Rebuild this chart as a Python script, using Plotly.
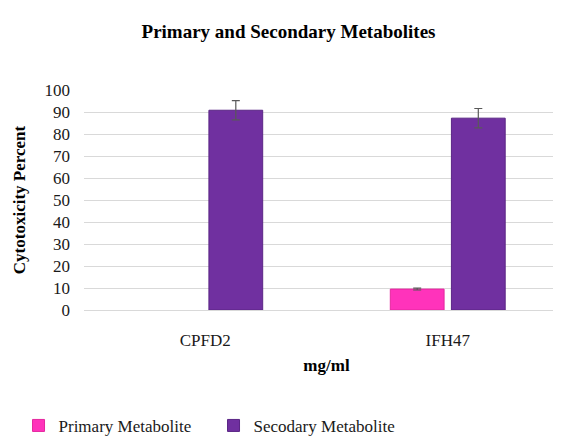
import plotly.graph_objects as go

categories = ["CPFD2", "IFH47"]
primary_values = [None, 9.5]
primary_errors = [None, 0.4]
secondary_values = [90.8, 87.2]
secondary_errors = [4.4, 4.4]
y_ticks = [0, 10, 20, 30, 40, 50, 60, 70, 80, 90, 100]

SERIF = "Liberation Serif, Times New Roman, serif"

fig = go.Figure()
fig.add_trace(go.Bar(
    name="Primary Metabolite", x=categories, y=primary_values,
    marker=dict(color="#FF33BB", line=dict(color="#E5279F", width=1)),
    error_y=dict(type="data", array=primary_errors, color="#595959", thickness=1.2, width=4),
))
fig.add_trace(go.Bar(
    name="Secodary Metabolite", x=categories, y=secondary_values,
    marker=dict(color="#7030A0", line=dict(color="#5A2585", width=1)),
    error_y=dict(type="data", array=secondary_errors, color="#595959", thickness=1.2, width=4),
))

fig.update_layout(
    width=561, height=436,
    margin=dict(l=76, r=0, t=82, b=122),
    paper_bgcolor="white", plot_bgcolor="white",
    barmode="group", bargap=0.496, bargroupgap=0.12,
    font=dict(family=SERIF, size=17, color="#1a1a1a"),
    title=dict(text="<b>Primary and Secondary Metabolites</b>", x=0.5, xanchor="center",
               y=1 - 23 / 436, yref="container", yanchor="middle",
               font=dict(family=SERIF, size=19, color="#000000")),
    showlegend=True,
    legend=dict(orientation="h", x=-0.135, xanchor="left", y=-0.445, yanchor="top",
                font=dict(family=SERIF, size=17, color="#1a1a1a"),
                entrywidth=150, traceorder="normal", itemwidth=30),
    xaxis=dict(showgrid=False, showline=False, zeroline=False, ticks="",
               ticklabelstandoff=18,
               title=dict(text="<b>mg/ml</b>", standoff=10,
                          font=dict(family=SERIF, size=17, color="#000000"))),
    yaxis=dict(range=[0, 100], tickvals=y_ticks, showgrid=True, gridcolor="#D9D9D9",
               gridwidth=1, zeroline=True, zerolinecolor="#D9D9D9", zerolinewidth=1,
               showline=False, ticks="", ticklabelstandoff=13,
               title=dict(text="<b>Cytotoxicity Percent</b>", standoff=14,
                          font=dict(family=SERIF, size=17, color="#000000"))),
)

fig.write_html("out.html")
